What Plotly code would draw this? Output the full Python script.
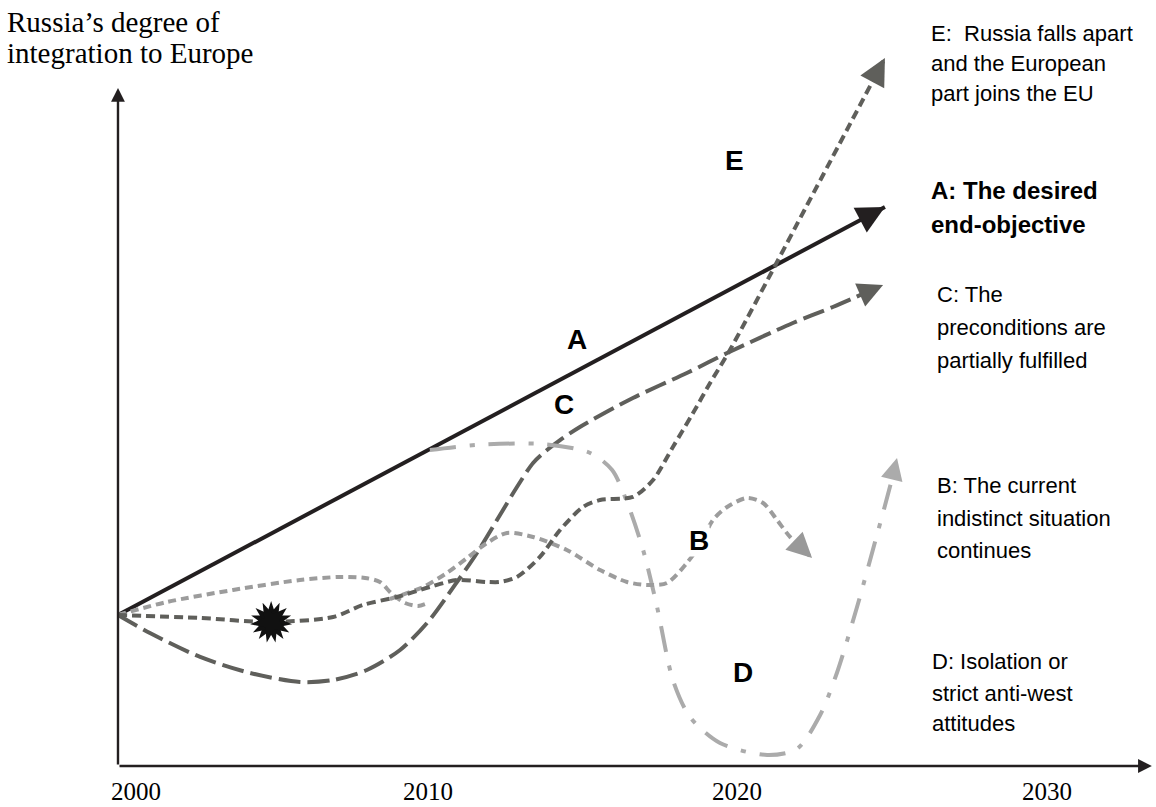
import math
import plotly.graph_objects as go

# ---------------- data (x = year, y = degree of integration, 0..100 scale) ----------------
a_year = [2000.0, 2024.74]
a_deg = [22.27, 82.45]

b_year = [2000.0, 2001.58, 2003.71, 2005.87, 2007.16, 2007.97, 2008.45, 2008.84, 2009.26, 2009.68, 2010.0, None,
          2008.77, 2009.84, 2010.61, 2011.26, 2011.90, 2012.55, 2013.39, 2014.48, 2015.55, 2016.42, 2017.06,
          2017.71, 2018.35, 2018.77, 2019.19, 2019.65, 2020.29, 2020.81, 2021.26, 2021.68, 2022.39]
b_deg = [22.27, 24.19, 25.96, 27.43, 27.88, 27.73, 27.14, 25.37, 24.04, 23.60, 24.04, None,
         24.63, 26.40, 28.47, 30.68, 32.89, 34.37, 33.78, 31.86, 28.91, 27.14, 26.70,
         26.99, 29.94, 32.60, 36.28, 38.20, 39.53, 38.79, 36.28, 33.78, 30.68]

c_year = [2000.0, 2001.03, 2002.65, 2004.26, 2005.87, 2006.94, 2008.03, 2009.10, 2009.97, 2010.87, 2011.58,
          2012.42, 2012.87, 2013.39, 2013.84, 2014.26, 2014.90, 2016.61, 2018.35, 2019.65, 2021.77, 2023.06, 2024.68]
c_deg = [22.27, 19.62, 16.08, 13.72, 12.39, 12.68, 14.16, 17.11, 21.09, 26.70, 31.42,
         37.76, 41.15, 44.69, 46.61, 48.08, 50.00, 54.28, 57.96, 60.91, 65.34, 67.70, 70.94]

d_year = [2010.06, 2011.58, 2013.71, 2015.23, 2015.94, 2016.42, 2016.94, 2017.39, 2017.90, 2018.45, 2019.42,
          2020.94, 2021.90, 2022.65, 2023.19, 2023.84, 2024.35, 2024.90, 2025.13]
d_deg = [46.61, 47.35, 47.49, 46.17, 43.66, 38.94, 31.86, 23.45, 12.68, 7.23, 3.39,
         1.62, 2.51, 7.52, 13.72, 23.45, 31.86, 41.15, 45.43]

e_year = [2000.0, 2002.65, 2004.90, 2006.94, 2007.90, 2009.0, 2010.06, 2010.94, 2011.90, 2012.32, 2012.87,
          2013.61, 2014.26, 2015.0, 2015.55, 2016.61, 2017.26, 2017.90, 2018.55, 2019.10, 2019.74, 2022.23, 2024.74]
e_deg = [22.27, 21.83, 21.24, 21.98, 23.75, 24.93, 26.40, 27.43, 27.14, 27.14, 27.88,
         30.83, 34.81, 38.20, 39.23, 39.68, 42.18, 47.05, 52.06, 56.49, 61.36, 82.74, 104.42]

shock_year = 2004.94
shock_deg = 21.24

tick_years = [2000, 2010, 2020, 2030]
tick_labels = ["2000", "2010", "2020", "2030"]
axis_top_deg = 100.0
axis_end_year = 2033.35

# ---------------- layout geometry ----------------
W, H = 1156, 807
X0, X1 = 1996.194, 2033.484
Y0, Y1 = -6.05, 112.98
SX = W / (X1 - X0)
SY = H / (Y1 - Y0)

DARK = "#231f20"
MID = "#5f5f5b"
LIGHT = "#9c9c9c"
LIGHTER = "#ababab"

fig = go.Figure()

def add_line(xs, ys, color, dash):
    fig.add_trace(go.Scatter(x=xs, y=ys, mode="lines", hoverinfo="skip", showlegend=False,
                             line=dict(color=color, width=4, dash=dash, shape="spline", smoothing=0.8),
                             connectgaps=False))

add_line(a_year, a_deg, DARK, "solid")
add_line(c_year, c_deg, MID, "22px,7px")
add_line(d_year, d_deg, LIGHTER, "26px,14px,5px,14px")
add_line(b_year, b_deg, LIGHT, "8px,5px")
add_line(e_year, e_deg, MID, "9px,5px")

# explosion marker
fig.add_trace(go.Scatter(x=[shock_year] * 3, y=[shock_deg] * 3, mode="markers", hoverinfo="skip",
                         showlegend=False,
                         marker=dict(symbol="star", size=30, color="#111111", angle=[0, 24, 48],
                                     line=dict(width=0))))

annotations = []

def arrow_head(xs, ys, color, scale):
    pts = [(x, y) for x, y in zip(xs, ys) if x is not None]
    (xa, ya), (xb, yb) = pts[-2], pts[-1]
    dx = (xb - xa) * SX
    dy = -(yb - ya) * SY
    n = math.hypot(dx, dy)
    L = 3.2 * scale
    annotations.append(dict(x=xb, y=yb, xref="x", yref="y", text="", showarrow=True,
                            ax=-dx / n * L, ay=-dy / n * L, arrowhead=2, arrowsize=scale,
                            arrowwidth=1, arrowcolor=color))

arrow_head(a_year, a_deg, DARK, 5.6)
arrow_head(c_year, c_deg, MID, 5.0)
arrow_head(e_year, e_deg, MID, 5.4)
arrow_head(b_year, b_deg, "#999999", 5.0)
arrow_head(d_year, d_deg, LIGHTER, 4.4)

# axes drawn as arrows
annotations.append(dict(x=axis_end_year, y=0, xref="x", yref="y", ax=2000, ay=0, axref="x", ayref="y",
                        text="", showarrow=True, arrowhead=2, arrowsize=1.15, arrowwidth=2.4,
                        arrowcolor=DARK))
annotations.append(dict(x=2000, y=axis_top_deg, xref="x", yref="y", ax=2000, ay=0, axref="x", ayref="y",
                        text="", showarrow=True, arrowhead=2, arrowsize=1.15, arrowwidth=2.4,
                        arrowcolor=DARK))

def px_text(x, y, text, size, family, xanchor="left", bg=None, bold=False):
    t = "<b>" + text + "</b>" if bold else text
    d = dict(x=x / W, y=1 - y / H, xref="paper", yref="paper", text=t, showarrow=False,
             xanchor=xanchor, yanchor="middle", font=dict(size=size, family=family, color="#000000"))
    if bg:
        d["bgcolor"] = bg
        d["borderpad"] = 0
    annotations.append(d)

SERIF = "Liberation Serif, Times New Roman, serif"
SANS = "Liberation Sans, Arial, sans-serif"
NARROW = "Liberation Sans Narrow, Arial Narrow, Liberation Sans, sans-serif"

# tick labels
tick_px = [136, 428, 737, 1047]
for tx, lab in zip(tick_px, tick_labels):
    px_text(tx, 791, lab, 25, SERIF, xanchor="center")

# y axis title
px_text(5, 22, "Russia\u2019s degree of", 29, SERIF)
px_text(5, 53, "integration to Europe", 29, SERIF)

# scenario letters
for lab, (lx, ly) in zip(["E", "A", "C", "B", "D"],
                         [(734, 161), (577, 339), (564, 404), (699, 540), (743, 672)]):
    px_text(lx, ly, lab, 28, SANS, xanchor="center", bg="white", bold=True)

# right-hand descriptions
desc = [
    (929, [33, 63, 93], ["E:  Russia falls apart", "and the European", "part joins the EU"], False, 22),
    (929, [190, 224], ["A: The desired", "end-objective"], True, 24),
    (935, [294, 327, 360], ["C: The", "preconditions are", "partially fulfilled"], False, 22),
    (935, [485, 518, 550], ["B: The current", "indistinct situation", "continues"], False, 22),
    (930, [661, 693, 723], ["D: Isolation or", "strict anti-west", "attitudes"], False, 22),
]
for dx, ys, lines, bold, size in desc:
    for yy, ln in zip(ys, lines):
        px_text(dx, yy, ln, size, NARROW, bold=bold)

fig.update_layout(
    width=W, height=H,
    margin=dict(l=0, r=0, t=0, b=0),
    paper_bgcolor="white", plot_bgcolor="white",
    xaxis=dict(range=[X0, X1], visible=False, fixedrange=True),
    yaxis=dict(range=[Y0, Y1], visible=False, fixedrange=True),
    annotations=annotations,
    showlegend=False,
)

fig.write_html("out.html", config={"displayModeBar": False, "staticPlot": True},
               post_script="document.body.style.margin='0';document.body.style.overflow='hidden';")
